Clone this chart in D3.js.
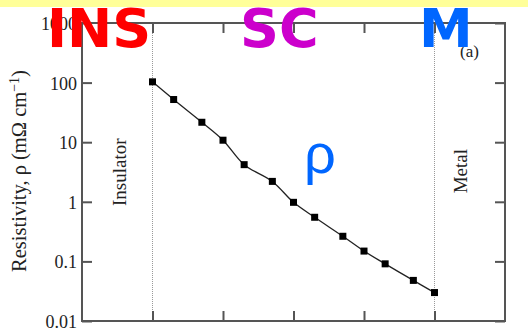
<!DOCTYPE html>
<html>
<head>
<meta charset="utf-8">
<script src="https://cdn.jsdelivr.net/npm/d3@7/dist/d3.min.js"></script>
<style>
  html, body { margin: 0; padding: 0; background: #fff; }
  svg { display: block; }
</style>
</head>
<body>
<svg id="chart" width="528" height="331"></svg>
<script>
// Doping steps across the phase diagram (arbitrary units) and resistivity in mΩ·cm
const doping = [1, 1.3, 1.7, 2, 2.3, 2.7, 3, 3.3, 3.7, 4, 4.3, 4.7, 5];
const resistivity = [103, 52, 21.6, 10.8, 4.2, 2.2, 0.98, 0.55, 0.264, 0.149, 0.091, 0.048, 0.030];
const yTicks = [0.01, 0.1, 1, 10, 100, 1000];
const yTickLabels = ["0.01", "0.1", "1", "10", "100", "1000"];
const xTicks = [1, 2, 3, 4, 5];
const boundaries = [1, 5];

const svg = d3.select("#chart");
const W = 528, H = 331;
const m = { left: 82, right: 23, top: 23, bottom: 10 };
const plotW = W - m.left - m.right;

// header band
svg.append("rect").attr("x", 0).attr("y", 0).attr("width", W).attr("height", 7)
  .attr("fill", "#ffff99");

const x = d3.scaleLinear().domain([0, 6]).range([m.left, m.left + plotW]);
const y = d3.scaleLog().domain([0.01, 1000]).range([m.top + 298, m.top]);

const axisColor = "#555";
const serif = "'Liberation Serif', 'Times New Roman', serif";

const g = svg.append("g");

// phase boundaries
g.selectAll("line.boundary").data(boundaries).join("line")
  .attr("class", "boundary")
  .attr("x1", d => x(d)).attr("x2", d => x(d))
  .attr("y1", y(1000)).attr("y2", y(0.01))
  .attr("stroke", "#999").attr("stroke-width", 1)
  .attr("stroke-dasharray", "1,1");

// axes with inward ticks
function styleAxis(sel) {
  sel.select(".domain").remove();
  sel.selectAll(".tick line").attr("stroke", axisColor).attr("stroke-width", 2);
  sel.selectAll(".tick text").attr("fill", "#222").attr("font-family", serif).attr("font-size", 18);
}

const yLeft = g.append("g").attr("transform", `translate(${m.left},0)`)
  .call(d3.axisLeft(y).tickValues(yTicks).tickFormat((d, i) => yTickLabels[i])
    .tickSizeInner(-10).tickSizeOuter(0).tickPadding(6));
styleAxis(yLeft);
yLeft.selectAll(".tick text").attr("x", -5).attr("dy", "0.36em");

const yRight = g.append("g").attr("transform", `translate(${x(6)},0)`)
  .call(d3.axisRight(y).tickValues(yTicks).tickFormat("").tickSizeInner(-10).tickSizeOuter(0));
styleAxis(yRight);

const xBottom = g.append("g").attr("transform", `translate(0,${y(0.01)})`)
  .call(d3.axisBottom(x).tickValues(xTicks).tickFormat("").tickSizeInner(-10).tickSizeOuter(0));
styleAxis(xBottom);

const xTop = g.append("g").attr("transform", `translate(0,${y(1000)})`)
  .call(d3.axisTop(x).tickValues(xTicks).tickFormat("").tickSizeInner(-10).tickSizeOuter(0));
styleAxis(xTop);

// frame
g.append("rect")
  .attr("x", x(0)).attr("y", y(1000))
  .attr("width", x(6) - x(0)).attr("height", y(0.01) - y(1000))
  .attr("fill", "none").attr("stroke", axisColor).attr("stroke-width", 2);

// resistivity curve
const pts = doping.map((d, i) => [d, resistivity[i]]);
g.append("path").datum(pts)
  .attr("fill", "none").attr("stroke", "#222").attr("stroke-width", 1.3)
  .attr("d", d3.line().x(d => x(d[0])).y(d => y(d[1])).curve(d3.curveCatmullRom.alpha(0.5)));

g.selectAll("rect.pt").data(pts).join("rect")
  .attr("class", "pt")
  .attr("x", d => x(d[0]) - 3.5).attr("y", d => y(d[1]) - 3.5)
  .attr("width", 7).attr("height", 7).attr("fill", "#000");

// region labels
svg.append("text").attr("transform", `translate(126,${(y(1) + y(100)) / 2 + 30}) rotate(-90)`)
  .attr("font-family", serif).attr("font-size", 19).attr("fill", "#222")
  .attr("text-anchor", "middle").text("Insulator");
svg.append("text").attr("transform", `translate(467,${y(10) + 29}) rotate(-90)`)
  .attr("font-family", serif).attr("font-size", 19).attr("fill", "#222")
  .attr("text-anchor", "middle").text("Metal");
svg.append("text").attr("x", 460).attr("y", 57)
  .attr("font-family", serif).attr("font-size", 17).attr("fill", "#222").text("(a)");

// y-axis title
const yt = svg.append("text").attr("transform", "translate(26,171) rotate(-90)")
  .attr("font-family", serif).attr("font-size", 20.5).attr("fill", "#222")
  .attr("text-anchor", "middle");
yt.append("tspan").text("Resistivity, ρ (mΩ cm");
yt.append("tspan").attr("font-size", 14).attr("baseline-shift", "super").text("−1");
yt.append("tspan").text(")");

// phase headings
const heavy = "'DejaVu Sans', Verdana, sans-serif";
svg.append("text").attr("x", 47).attr("y", 47).attr("font-family", heavy)
  .attr("font-weight", "bold").attr("font-size", 54).attr("fill", "#ff0000").text("INS");
svg.append("text").attr("x", 240).attr("y", 47).attr("font-family", heavy)
  .attr("font-weight", "bold").attr("font-size", 54).attr("fill", "#cc00cc").text("SC");
svg.append("text").attr("x", 419).attr("y", 47).attr("font-family", heavy)
  .attr("font-weight", "bold").attr("font-size", 54).attr("fill", "#0066ff").text("M");
svg.append("text").attr("x", 304).attr("y", 173).attr("font-family", "'Liberation Sans', Arial, sans-serif")
  .attr("font-size", 56).attr("fill", "#0066ff").text("ρ");
</script>
</body>
</html>
